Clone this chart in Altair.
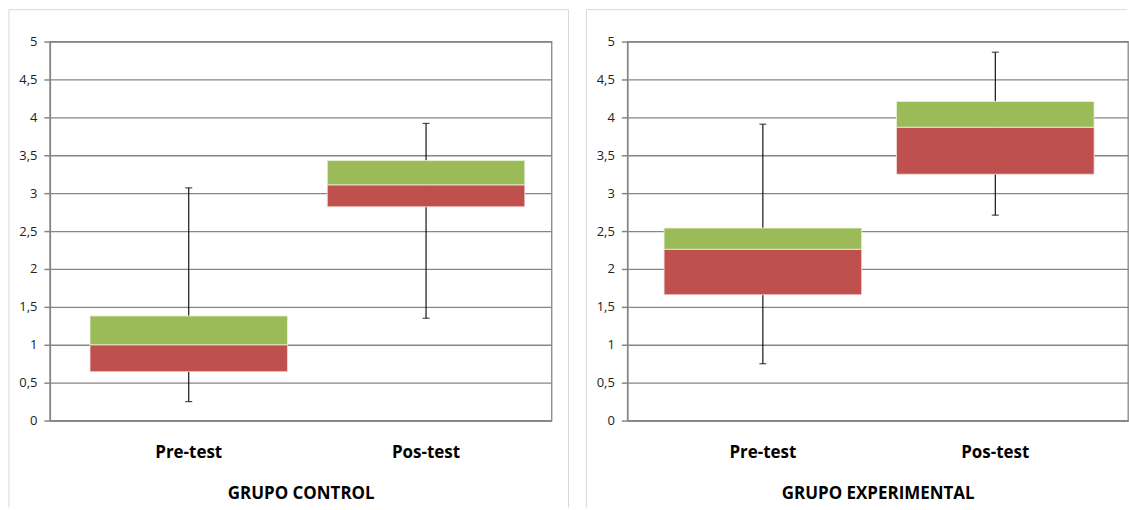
import altair as alt
import pandas as pd

categories = ["Pre-test", "Pos-test"]

control_whisker_low = [0.25, 1.35]
control_box_low = [0.645, 2.82]
control_median = [1.0, 3.11]
control_box_high = [1.38, 3.43]
control_whisker_high = [3.07, 3.92]

exp_whisker_low = [0.75, 2.71]
exp_box_low = [1.66, 3.25]
exp_median = [2.26, 3.87]
exp_box_high = [2.54, 4.21]
exp_whisker_high = [3.91, 4.86]

y_ticks = [0, 0.5, 1, 1.5, 2, 2.5, 3, 3.5, 4, 4.5, 5]
titles = ["GRUPO CONTROL", "GRUPO EXPERIMENTAL"]

GRID = "#868686"
BORDER = "#d9d9d9"
FONT = "Open Sans"


def make_df(wlo, blo, med, bhi, whi):
    return pd.DataFrame({"cat": categories, "wlo": wlo, "blo": blo,
                         "med": med, "bhi": bhi, "whi": whi})


def panel(df, title, width, pin, pout, align, border_right):
    xenc = alt.X("cat:N", sort=categories,
                 scale=alt.Scale(paddingInner=pin, paddingOuter=pout, align=align),
                 axis=alt.Axis(title=title, labelAngle=0, ticks=False,
                               domainColor=GRID, domainWidth=1.5,
                               labelFont=FONT, labelFontSize=17, labelFontWeight="bold",
                               labelColor="#000000", labelPadding=24,
                               titleFont=FONT, titleFontSize=17, titleFontWeight="bold",
                               titleColor="#000000", titlePadding=25))
    yaxis = alt.Axis(values=y_ticks, title=None,
                     labelExpr="replace(toString(datum.value), '.', ',')",
                     labelFont=FONT, labelFontSize=13, labelColor="#222222",
                     labelPadding=7, tickSize=6, tickColor=GRID, tickWidth=1.5,
                     domainColor=GRID, domainWidth=1.5,
                     grid=True, gridColor=GRID, gridWidth=1.3)
    yscale = alt.Scale(domain=[0, 5], nice=False)
    base = alt.Chart(df)
    whisker = base.mark_rule(color="#000000", strokeWidth=1.1).encode(
        x=xenc, y=alt.Y("wlo:Q", scale=yscale, axis=yaxis), y2="whi:Q")
    red = base.mark_bar(color="#c0504d", stroke="#f2dcdb", strokeWidth=0.8).encode(
        x=xenc, y=alt.Y("blo:Q", scale=yscale, axis=yaxis), y2="med:Q")
    green = base.mark_bar(color="#9bbb59", stroke="#ebf1de", strokeWidth=0.8).encode(
        x=xenc, y=alt.Y("med:Q", scale=yscale, axis=yaxis), y2="bhi:Q")
    cap_lo = base.mark_tick(color="#000000", size=7, thickness=1.2).encode(
        x=xenc, y=alt.Y("wlo:Q", scale=yscale, axis=yaxis))
    cap_hi = base.mark_tick(color="#000000", size=7, thickness=1.2).encode(
        x=xenc, y=alt.Y("whi:Q", scale=yscale, axis=yaxis))

    one = alt.Chart(pd.DataFrame({"k": [0]}))
    b_left = one.mark_rule(color=BORDER, strokeWidth=1).encode(
        x=alt.value(-41), y=alt.value(-32), y2=alt.value(467))
    b_top = one.mark_rule(color=BORDER, strokeWidth=1).encode(
        x=alt.value(-41), x2=alt.value(border_right), y=alt.value(-32))
    layers = [b_left, b_top, whisker, red, green, cap_lo, cap_hi]
    if border_right > width:
        b_right = one.mark_rule(color=BORDER, strokeWidth=1).encode(
            x=alt.value(border_right), y=alt.value(-32), y2=alt.value(467))
        layers.insert(2, b_right)
    return alt.layer(*layers).properties(width=width, height=380)


left = panel(make_df(control_whisker_low, control_box_low, control_median,
                     control_box_high, control_whisker_high),
             titles[0], 503, 0.168, 0.141, 0.6, 520)
right = panel(make_df(exp_whisker_low, exp_box_low, exp_median,
                      exp_box_high, exp_whisker_high),
              titles[1], 502, 0.150, 0.152, 0.52, 501)

chart = alt.hconcat(left, right, spacing=14).properties(
    padding={"left": 7, "top": 7, "right": 0, "bottom": 0},
    background="#ffffff",
).configure_view(stroke=GRID, strokeWidth=1.3)

chart.save("out.html", embed_options={"renderer": "svg", "actions": False})
